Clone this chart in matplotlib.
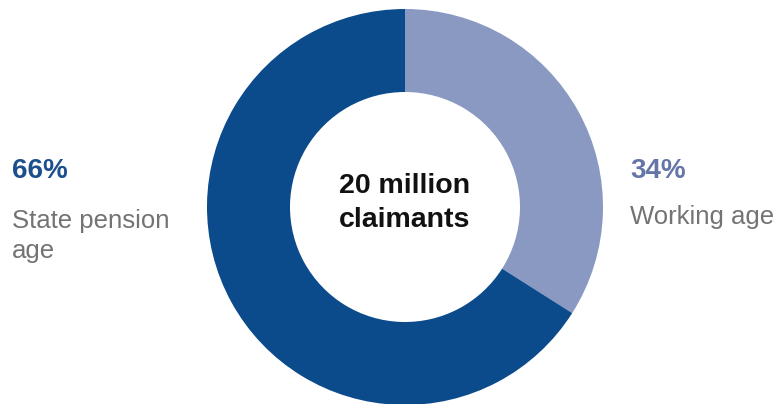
import matplotlib.pyplot as plt

# data
labels = ["Working age", "State pension\nage"]
shares = [34, 66]
colors = ["#8999c2", "#0b4a8b"]
total_text = "20 million\nclaimants"

plt.rcParams['font.family'] = ['Liberation Sans', 'DejaVu Sans']

fig = plt.figure(figsize=(7.82, 4.04), dpi=100)
ax = fig.add_axes([0, 0, 1, 1])

# donut, light segment starts at 12 o'clock going clockwise
ax.pie(shares, colors=colors, startangle=90, counterclock=False,
       center=(405, 197), radius=198,
       wedgeprops=dict(width=83, edgecolor='none'))
ax.set_xlim(0, 782)
ax.set_ylim(0, 404)
ax.axis('off')

# centre text
ax.text(405, 201, total_text, ha='center', va='center', fontsize=20.5,
        fontweight='bold', color='#111111', linespacing=1.4)

# left label (state pension age)
ax.text(12, 233, f"{shares[1]}%", ha='left', va='center', fontsize=20,
        fontweight='bold', color='#1d4f8c')
ax.text(12, 168, labels[1], ha='left', va='center', fontsize=18.5,
        color='#737373', linespacing=1.35)

# right label (working age)
ax.text(630, 233, f"{shares[0]}%", ha='left', va='center', fontsize=20,
        fontweight='bold', color='#6576a6')
ax.text(630, 187, labels[0], ha='left', va='center', fontsize=18.5,
        color='#737373')

fig.savefig("out.png", dpi=100)
